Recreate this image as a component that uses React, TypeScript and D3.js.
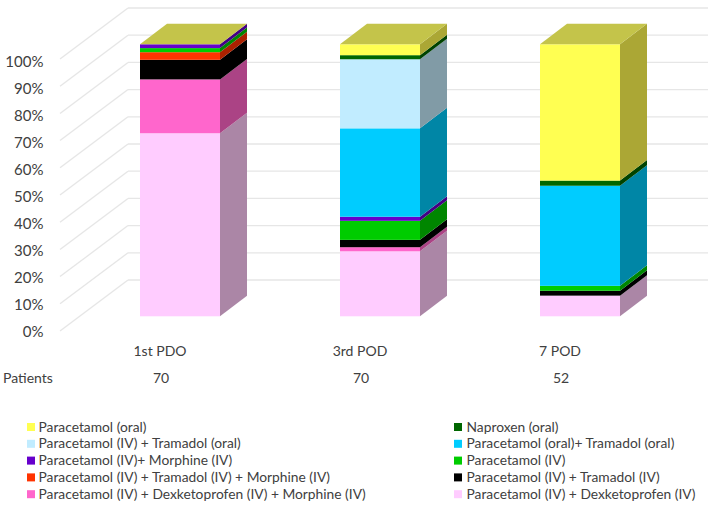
import React from "react";
import * as d3 from "d3";

const days = ["1st PDO", "3rd POD", "7 POD"];
const patients = [70, 70, 52];
const ticks = [0, 10, 20, 30, 40, 50, 60, 70, 80, 90, 100];

// stack order, bottom to top
const drugs = [
  "Paracetamol (IV) + Dexketoprofen (IV)",
  "Paracetamol (IV) + Dexketoprofen (IV) + Morphine (IV)",
  "Paracetamol (IV) + Tramadol (IV)",
  "Paracetamol (IV) + Tramadol (IV) + Morphine (IV)",
  "Paracetamol (IV)",
  "Paracetamol (IV)+ Morphine (IV)",
  "Paracetamol (oral)+ Tramadol (oral)",
  "Paracetamol (IV) + Tramadol (oral)",
  "Naproxen (oral)",
  "Paracetamol (oral)",
];
const colors = [
  "#FFCCFF", "#FF66CC", "#000000", "#FF3300", "#00CC00",
  "#6600CC", "#00CCFF", "#C1ECFF", "#006600", "#FFFF52",
];

const pdo1 = [67.3, 19.8, 7.2, 2.8, 1.5, 1.4, 0, 0, 0, 0];
const pod3 = [23.9, 1.5, 2.7, 0, 7.0, 1.5, 32.5, 25.4, 1.5, 4.0];
const pod7 = [7.6, 0, 1.8, 0, 1.8, 0, 36.8, 0, 1.9, 50.1];
const series = [pdo1, pod3, pod7];

// legend rows, left and right column (indexes into drugs)
const legendLeft = [9, 7, 5, 3, 1];
const legendRight = [8, 6, 4, 2, 0];

const W = 718;
const H = 508;
const DX = 27; // side face depth
const DY = -20.5;

const y = d3.scaleLinear().domain([0, 100]).range([316.3, 44.3]);
const yFront = d3.scaleLinear().domain([0, 100]).range([331, 59]);
const yBack = d3.scaleLinear().domain([0, 100]).range([280, 8]);
const yLabel = d3.scaleLinear().domain([0, 100]).range([332, 62]);
const x = d3.scaleBand<string>().domain(days).range([140, 620]).paddingInner(0.6).paddingOuter(0);

const FONT = "Lato, sans-serif";
const TEXT = "#404040";

const shade = (c: string, r: number, g: number, b: number) => {
  const o = d3.rgb(c);
  return d3.rgb(o.r * r, o.g * g, o.b * b).formatHex();
};

const poly = d3.line();

export default function App() {
  return (
    <svg
      width={W}
      height={H}
      viewBox={`0 0 ${W} ${H}`}
      style={{ position: "absolute", left: 0, top: 0, background: "#fff" }}
    >
      {ticks.map((t) => (
        <g key={t} stroke="#E6E6E6" strokeWidth={1.3} fill="none">
          <line x1={60} x2={128} y1={yFront(t)} y2={yBack(t)} />
          <line x1={128} x2={708} y1={yBack(t)} y2={yBack(t)} />
        </g>
      ))}
      {ticks.map((t) => (
        <text key={t} x={43.5} y={yLabel(t) + 5} textAnchor="end" fontFamily={FONT} fontSize={15} fill={TEXT}>
          {t}%
        </text>
      ))}

      {series.map((vals, i) => {
        const x0 = x(days[i]) as number;
        const x1 = x0 + x.bandwidth();
        const stack = d3.cumsum(vals);
        const topY = y(stack[stack.length - 1]);
        return (
          <g key={days[i]}>
            {vals.map((v, k) => {
              if (v <= 0) return null;
              const yb = y(stack[k] - v);
              const yt = y(stack[k]);
              return (
                <g key={k}>
                  <rect x={x0} y={yt} width={x1 - x0} height={yb - yt} fill={colors[k]} />
                  <path
                    d={poly([[x1, yb], [x1 + DX, yb + DY], [x1 + DX, yt + DY], [x1, yt]]) + "Z"}
                    fill={shade(colors[k], 0.67, 0.655, 0.65)}
                  />
                </g>
              );
            })}
            {/* the lid keeps the top series colour on all three bars */}
            <path
              d={poly([[x0, topY], [x0 + DX, topY + DY], [x1 + DX, topY + DY], [x1, topY]]) + "Z"}
              fill={shade(colors[9], 0.77, 0.77, 0.9)}
            />
          </g>
        );
      })}

      {days.map((d, i) => (
        <g key={d} fontFamily={FONT} fontSize={14} fill={TEXT} textAnchor="middle">
          <text x={(x(d) as number) + 20} y={356}>{d}</text>
          <text x={(x(d) as number) + 21} y={383}>{patients[i]}</text>
        </g>
      ))}
      <text x={3} y={383} fontFamily={FONT} fontSize={14} fill={TEXT}>Patients</text>

      {[{ idx: legendLeft, sx: 27, tx: 38.5 }, { idx: legendRight, sx: 454, tx: 466.5 }].map(({ idx, sx, tx }) =>
        idx.map((k, row) => {
          const ly = 427 + row * 16.8;
          return (
            <g key={k}>
              <rect x={sx} y={ly - 4} width={8} height={8} fill={colors[k]} />
              <text x={tx} y={ly + 4.5} fontFamily={FONT} fontSize={13.8} fill={TEXT}>
                {drugs[k]}
              </text>
            </g>
          );
        })
      )}
    </svg>
  );
}
